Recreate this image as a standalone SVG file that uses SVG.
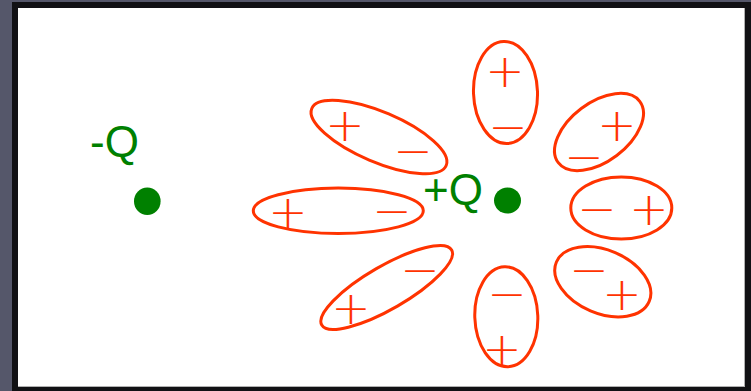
<svg xmlns="http://www.w3.org/2000/svg" width="751" height="391" viewBox="0 0 751 391">
<style>
.dp{fill:none;stroke:#ff3300;stroke-width:3}
.sg{font-family:"DejaVu Sans",sans-serif;font-weight:200;font-size:47px;fill:#ff3300;text-anchor:middle}
.q{font-family:"Liberation Sans",Arial,sans-serif;font-size:44px;fill:#008000}
.dot{fill:#008000}
</style>
<rect x="0" y="0" width="751" height="391" fill="#55576a"/>
<rect x="12" y="2" width="739" height="389" fill="#111114"/>
<rect x="18" y="8" width="727" height="379" fill="#b0b0b0"/>
<rect x="18" y="8" width="726" height="378" fill="#ffffff"/>
<g id="connectors"/>
<g id="charge-neg">
<text class="q" x="90" y="157">-Q</text>
<ellipse class="dot" cx="147.3" cy="201.2" rx="13.3" ry="13.8"/>
</g>
<g id="charge-pos">
<text class="q" x="423" y="205">+Q</text>
<ellipse class="dot" cx="507.5" cy="200.5" rx="13.5" ry="13"/>
</g>
<g id="dipole-1">
<ellipse class="dp" cx="379" cy="137" rx="73" ry="25" transform="rotate(23 379 137)"/>
<text class="sg" x="345" y="141">+</text>
<text class="sg" x="413" y="167">−</text>
</g>
<g id="dipole-2">
<ellipse class="dp" cx="338.3" cy="210.8" rx="85" ry="22.7"/>
<text class="sg" x="288" y="228">+</text>
<text class="sg" x="392" y="227">−</text>
</g>
<g id="dipole-3">
<ellipse class="dp" cx="505.5" cy="92.5" rx="32" ry="51" transform="rotate(-2 505.5 92.5)"/>
<text class="sg" x="505" y="86.5">+</text>
<text class="sg" x="508" y="143">−</text>
</g>
<g id="dipole-4">
<ellipse class="dp" cx="599" cy="132" rx="51" ry="29.5" transform="rotate(-37 599 132)"/>
<text class="sg" x="617" y="141">+</text>
<text class="sg" x="584" y="172.5">−</text>
</g>
<g id="dipole-5">
<ellipse class="dp" cx="621.3" cy="208" rx="50.5" ry="31"/>
<text class="sg" x="597" y="225">−</text>
<text class="sg" x="649" y="224.5">+</text>
</g>
<g id="dipole-6">
<ellipse class="dp" cx="386.7" cy="287.5" rx="75" ry="21.5" transform="rotate(-30 386.7 287.5)"/>
<text class="sg" x="420" y="285.5">−</text>
<text class="sg" x="351" y="323.5">+</text>
</g>
<g id="dipole-7">
<ellipse class="dp" cx="506.3" cy="316.7" rx="31.5" ry="50" transform="rotate(-2 506.3 316.7)"/>
<text class="sg" x="507" y="310">−</text>
<text class="sg" x="502" y="365">+</text>
</g>
<g id="dipole-8">
<ellipse class="dp" cx="602.8" cy="281.7" rx="50.4" ry="31.6" transform="rotate(23 602.8 281.7)"/>
<text class="sg" x="589" y="286">−</text>
<text class="sg" x="622" y="310">+</text>
</g>
</svg>
